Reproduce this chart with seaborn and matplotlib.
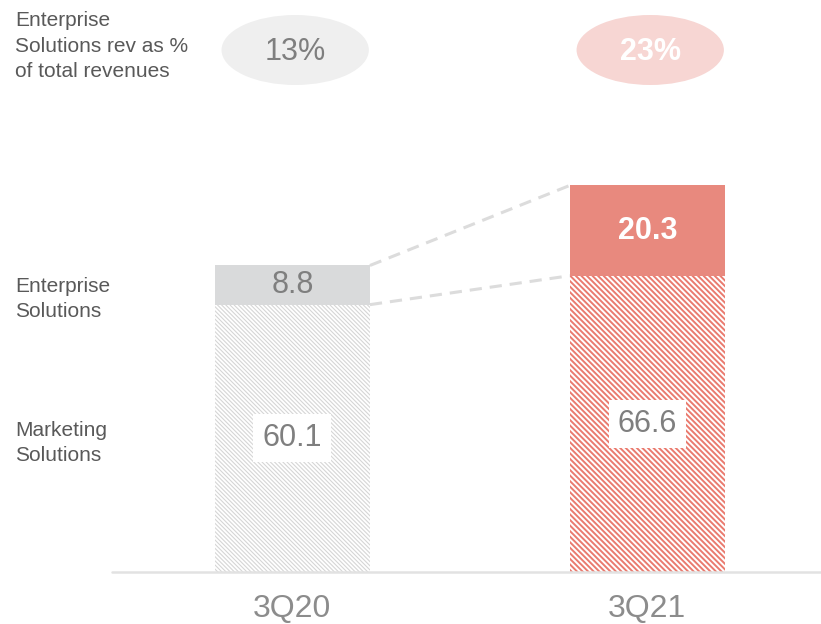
import matplotlib
matplotlib.use("Agg")
import matplotlib.pyplot as plt
import matplotlib.transforms as mtransforms
from matplotlib.patches import Ellipse
import seaborn as sns
import pandas as pd

# Revenue by segment ($M)
quarters = ["3Q20", "3Q21"]
marketing = [60.1, 66.6]
enterprise = [8.8, 20.3]
share_labels = ["13%", "23%"]

sns.set_theme(style="white")
plt.rcParams["font.family"] = ["Liberation Sans", "DejaVu Sans"]

W, H = 821, 624
fig = plt.figure(figsize=(W / 100, H / 100), dpi=100)
fig.patch.set_facecolor("white")

# axes placed in pixel units: baseline at y=572, plotting area to the right of the row labels
ax = fig.add_axes([112 / W, (H - 572) / H, (W - 112) / W, (572 - 100) / H])

totals = [m + e for m, e in zip(marketing, enterprise)]
df = pd.DataFrame({"quarter": quarters, "marketing": marketing,
                   "enterprise": enterprise, "total": totals})

solid = ["#d9dadb", "#e8897e"]
hatch_col = ["#d6d6d6", "#ea7a6e"]
hatch_pat = ["\\" * 8, "\\" * 6]
hatch_lw = [0.8, 1.4]
bw = 0.437

# full stack height in the segment colour, marketing drawn over it
sns.barplot(data=df, x="quarter", y="total", hue="quarter", palette=solid,
            width=bw, legend=False, ax=ax, saturation=1, linewidth=0)
sns.barplot(data=df, x="quarter", y="marketing", color="white",
            width=bw, ax=ax, saturation=1, linewidth=0)

for i, p in enumerate(ax.containers[-1]):
    p.set_facecolor("white")
    p.set_edgecolor(hatch_col[i])
    p.set_linewidth(0)
    p.set_hatch(hatch_pat[i])
    if hasattr(p, "set_hatch_linewidth"):
        p.set_hatch_linewidth(hatch_lw[i])

ax.set_xlim(-0.508, 1.489)
ax.set_ylim(0, 106.1)

# dashed connectors between the two stacks
ax.plot([bw / 2, 1 - bw / 2], [totals[0], totals[1]], color="#dcdcdc",
        lw=2.2, dashes=(4, 2.6), zorder=1)
ax.plot([bw / 2, 1 - bw / 2], [marketing[0], marketing[1]], color="#dcdcdc",
        lw=2.2, dashes=(4, 2.6), zorder=1)

# value labels
for i in range(len(quarters)):
    ax.text(i, marketing[i] / 2, f"{marketing[i]:.1f}", ha="center", va="center",
            fontsize=22, color="#7f7f7f",
            bbox=dict(boxstyle="square,pad=0.3", fc="white", ec="none"))
    ax.text(i, marketing[i] + enterprise[i] / 2, f"{enterprise[i]:.1f}",
            ha="center", va="center", fontsize=22,
            color="#7f7f7f" if i == 0 else "white",
            fontweight="normal" if i == 0 else "bold")

# baseline
ax.axhline(0, color="#e2e2e2", lw=1.8, zorder=3, clip_on=False)

for s in ax.spines.values():
    s.set_visible(False)
ax.set_yticks([])
ax.set_xlabel("")
ax.set_ylabel("")
ax.tick_params(axis="x", length=0, pad=16, labelsize=23, labelcolor="#8c8c8c")

# share badges above each stack
blend = mtransforms.blended_transform_factory(ax.transData, fig.transFigure)
badge_fc = ["#efefef", "#f7d6d3"]
for i, lab in enumerate(share_labels):
    ell = Ellipse((i + 0.008, 1 - 50 / H), 0.415, 70 / H, transform=blend,
                  facecolor=badge_fc[i], edgecolor="none", clip_on=False)
    fig.add_artist(ell)
    fig.text(i + 0.008, 1 - 52 / H, lab, transform=blend,
             ha="center", va="center", fontsize=22,
             color="#7f7f7f" if i == 0 else "white",
             fontweight="normal" if i == 0 else "bold")

# row labels
lab_kw = dict(ha="left", va="center", fontsize=15, color="#595959", linespacing=1.42)
fig.text(15 / W, 1 - 46 / H, "Enterprise\nSolutions rev as %\nof total revenues", **lab_kw)
fig.text(15 / W, 1 - 299 / H, "Enterprise\nSolutions", **lab_kw)
fig.text(15 / W, 1 - 443 / H, "Marketing\nSolutions", **lab_kw)

fig.savefig("out.png", dpi=100, facecolor="white")
